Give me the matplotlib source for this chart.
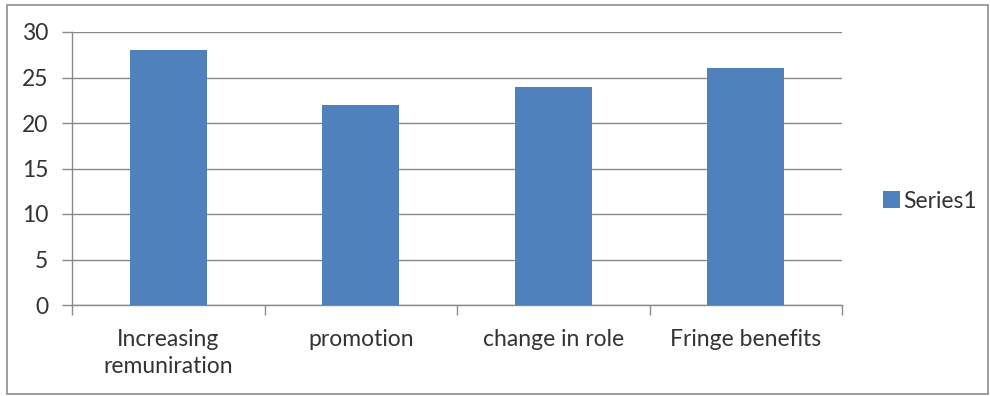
import matplotlib
matplotlib.use("Agg")
import matplotlib.pyplot as plt
from matplotlib.patches import Rectangle

categories = ["Increasing\nremuniration", "promotion", "change in role", "Fringe benefits"]
values = [28, 22, 24, 26]
series_name = "Series1"
yticks = [0, 5, 10, 15, 20, 25, 30]

plt.rcParams['font.family'] = ['Lato', 'DejaVu Sans']
W, H = 990, 396
fig = plt.figure(figsize=(W/100, H/100), dpi=100)

# outer chart border
fig.patches.append(Rectangle((7/W, 1-394/H), (988-7)/W, (394-5)/H, transform=fig.transFigure,
                             fill=False, edgecolor="#8c8c8c", linewidth=1.2))

ax = fig.add_axes([72/W, 1-305/H, (842-72)/W, (305-32)/H])
x = range(len(categories))
bars = ax.bar(x, values, width=0.4, color="#4F81BD", label=series_name, zorder=3)
ax.set_xlim(-0.5, len(categories)-0.5)
ax.set_ylim(0, 30)
ax.set_yticks(yticks)
ax.set_yticklabels([str(t) for t in yticks])
ax.yaxis.grid(True, color="#8a8a8a", linewidth=1.0, zorder=0)
ax.set_axisbelow(True)
for s in ["top", "right"]:
    ax.spines[s].set_visible(False)
for s in ["left", "bottom"]:
    ax.spines[s].set_color("#8a8a8a")
    ax.spines[s].set_linewidth(1.0)

ax.set_xticks([i for i in x])
ax.set_xticklabels(categories, fontsize=16.5, color="#333333", linespacing=1.35)
ax.tick_params(axis="x", length=0, pad=17)
# category boundary ticks
ax.set_xticks([i - 0.5 for i in range(len(categories)+1)], minor=True)
ax.tick_params(axis="x", which="minor", length=7, color="#8a8a8a", width=1.0)
ax.tick_params(axis="y", length=7, color="#8a8a8a", width=1.0, labelsize=16.5, labelcolor="#333333", pad=10)

leg = fig.legend(handles=[bars], labels=[series_name], loc="center left",
                 bbox_to_anchor=(862/W, 1-201/H), frameon=False, fontsize=16.5,
                 handlelength=0.75, handleheight=0.75, handletextpad=0.15, labelcolor="#333333")

fig.savefig("out.png", dpi=100)
